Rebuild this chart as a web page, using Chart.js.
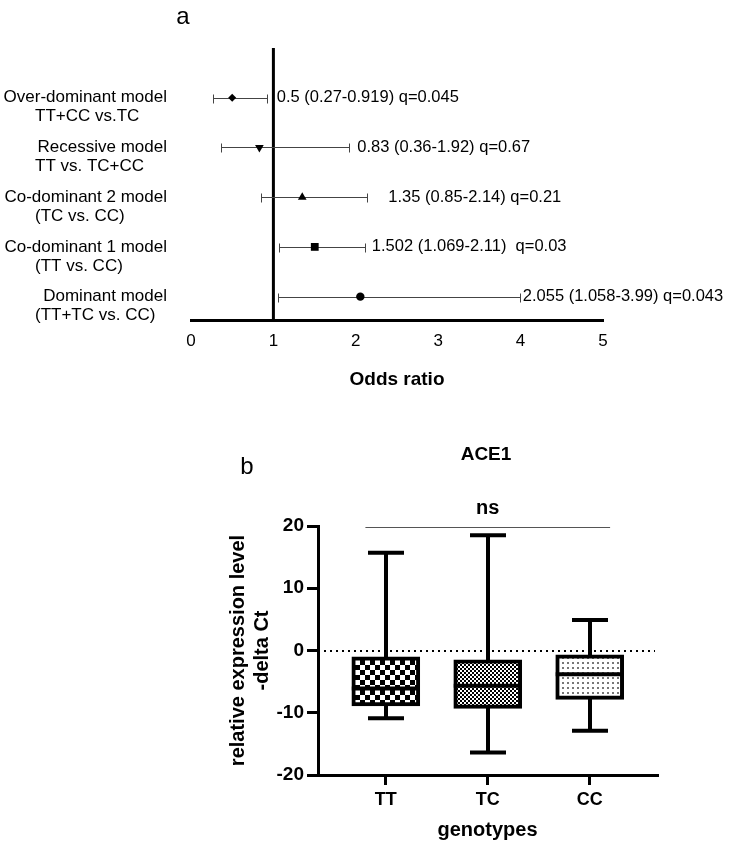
<!DOCTYPE html>
<html>
<head>
<meta charset="utf-8">
<script src="https://cdn.jsdelivr.net/npm/chart.js@4/dist/chart.umd.min.js"></script>
<style>
html,body{margin:0;padding:0;background:#fff;}
#wrap{position:relative;width:740px;height:847px;background:#fff;}
#wrap canvas{position:absolute;left:0;top:0;}
</style>
</head>
<body>
<div id="wrap">
<canvas id="forest" width="740" height="847"></canvas>
<canvas id="box" width="740" height="847"></canvas>
</div>
<script>
// ---------- Panel a: forest plot data ----------
const modelNames = ["Over-dominant model", "Recessive model", "Co-dominant 2 model", "Co-dominant 1 model", "Dominant model"];
const modelComparisons = ["TT+CC vs.TC", "TT vs. TC+CC", "(TC vs. CC)", "(TT vs. CC)", "(TT+TC vs. CC)"];
const oddsRatio = [0.5, 0.83, 1.35, 1.502, 2.055];
const ciLow = [0.27, 0.36, 0.85, 1.069, 1.058];
const ciHigh = [0.919, 1.92, 2.14, 2.11, 3.99];
const orLabels = ["0.5 (0.27-0.919) q=0.045", "0.83 (0.36-1.92) q=0.67", "1.35 (0.85-2.14) q=0.21", "1.502 (1.069-2.11)  q=0.03", "2.055 (1.058-3.99) q=0.043"];
const orTicks = [0, 1, 2, 3, 4, 5];

// ---------- Panel b: box plot data ----------
const genotypes = ["TT", "TC", "CC"];
const whiskerMax = [15.7, 18.5, 4.9];
const q3 = [-1.0, -1.5, -0.7];
const median = [-6.1, -5.65, -3.8];
const q1 = [-8.9, -9.3, -7.85];
const whiskerMin = [-10.9, -16.4, -12.9];
const exprTicks = [-20, -10, 0, 10, 20];

const FONT = "'Liberation Sans', Arial, sans-serif";

// styles (not data)
const markerStyle = ['rectRot', 'triangle', 'triangle', 'rect', 'circle'];
const markerRotation = [0, 180, 0, 0, 0];
const markerRadius = [4, 5, 5, 5.5, 4.2];
const labelGap = [10, 8, 21, 7, 3];

const forestPlugin = {
  id: 'forestExtras',
  beforeDatasetsDraw(chart) {
    const {ctx, chartArea} = chart;
    const xs = chart.scales.x, ys = chart.scales.y;
    ctx.save();
    // reference line at OR = 1
    const x1 = xs.getPixelForValue(1);
    ctx.strokeStyle = '#000';
    ctx.lineWidth = 3;
    ctx.beginPath();
    ctx.moveTo(x1, chartArea.top);
    ctx.lineTo(x1, chartArea.bottom);
    ctx.stroke();
    // CI whiskers
    ctx.strokeStyle = '#444';
    ctx.lineWidth = 1;
    ciLow.forEach((lo, i) => {
      const py = Math.round(ys.getPixelForValue(i + 1)) + 0.5;
      const a = Math.round(xs.getPixelForValue(lo)) + 0.5;
      const b = Math.round(xs.getPixelForValue(ciHigh[i])) + 0.5;
      ctx.beginPath();
      ctx.moveTo(a, py); ctx.lineTo(b, py);
      ctx.moveTo(a, py - 4); ctx.lineTo(a, py + 5);
      ctx.moveTo(b, py - 4); ctx.lineTo(b, py + 5);
      ctx.stroke();
    });
    ctx.restore();
  },
  afterDraw(chart) {
    const {ctx} = chart;
    const xs = chart.scales.x, ys = chart.scales.y;
    ctx.save();
    ctx.fillStyle = '#000';
    ctx.textBaseline = 'middle';
    // panel letter
    ctx.font = `24px ${FONT}`;
    ctx.textAlign = 'center';
    ctx.fillText('a', 183, 17);
    // row labels
    ctx.font = `17px ${FONT}`;
    modelNames.forEach((name, i) => {
      const py = ys.getPixelForValue(i + 1);
      ctx.textAlign = 'right';
      ctx.fillText(name, 167, py);
      ctx.textAlign = 'left';
      ctx.fillText(modelComparisons[i], 35, py + 19);
    });
    // OR annotations
    ctx.font = `16.5px ${FONT}`;
    ctx.textAlign = 'left';
    orLabels.forEach((t, i) => {
      const py = ys.getPixelForValue(i + 1);
      ctx.fillText(t, xs.getPixelForValue(ciHigh[i]) + labelGap[i], py);
    });
    ctx.restore();
  }
};

new Chart(document.getElementById('forest'), {
  type: 'scatter',
  data: {
    datasets: [{
      data: oddsRatio.map((v, i) => ({x: v, y: i + 1})),
      pointStyle: markerStyle,
      rotation: markerRotation,
      pointRadius: markerRadius,
      backgroundColor: '#000',
      borderColor: '#000',
      borderWidth: 0
    }]
  },
  options: {
    responsive: false,
    animation: false,
    events: [],
    layout: {padding: {left: 191, right: 137, top: 48, bottom: 452}},
    plugins: {legend: {display: false}, tooltip: {enabled: false}},
    scales: {
      x: {
        type: 'linear', min: orTicks[0], max: orTicks[orTicks.length - 1],
        afterBuildTicks: s => { s.ticks = orTicks.map(v => ({value: v})); },
        afterFit: s => { s.height = 75; },
        grid: {display: false, drawTicks: false},
        border: {display: true, width: 3, color: '#000'},
        ticks: {padding: 11, color: '#000', font: {size: 17, family: FONT}},
        title: {display: true, text: 'Odds ratio', color: '#000', padding: {top: 0, bottom: 4}, font: {size: 19, weight: 'bold', family: FONT}}
      },
      y: {type: 'linear', min: 0, max: 5.47, reverse: true, display: false}
    }
  },
  plugins: [forestPlugin]
});

// ---------- patterns ----------
function makePattern(kind) {
  const c = document.createElement('canvas');
  const g = c.getContext('2d');
  if (kind === 'checker') {
    c.width = 10; c.height = 10;
    g.fillStyle = '#fff'; g.fillRect(0, 0, 10, 10);
    g.fillStyle = '#000'; g.fillRect(0, 0, 5, 5); g.fillRect(5, 5, 5, 5);
  } else if (kind === 'fine') {
    c.width = 4; c.height = 4;
    g.fillStyle = '#fff'; g.fillRect(0, 0, 4, 4);
    g.fillStyle = '#000'; g.fillRect(0, 0, 2, 2); g.fillRect(2, 2, 2, 2);
  } else {
    c.width = 5; c.height = 5;
    g.fillStyle = '#fff'; g.fillRect(0, 0, 5, 5);
    g.fillStyle = '#777'; g.fillRect(2, 2, 2, 2);
  }
  return g.createPattern(c, 'repeat');
}
const boxFills = [makePattern('checker'), makePattern('fine'), makePattern('dots')];

const boxPlugin = {
  id: 'boxExtras',
  beforeDatasetsDraw(chart) {
    const {ctx, chartArea} = chart;
    const xs = chart.scales.x, ys = chart.scales.y;
    ctx.save();
    const y0 = Math.round(ys.getPixelForValue(0));
    ctx.strokeStyle = '#000';
    ctx.lineWidth = 2;
    ctx.setLineDash([2, 4]);
    ctx.beginPath();
    ctx.moveTo(chartArea.left + 6, y0); ctx.lineTo(chartArea.right - 2, y0);
    ctx.stroke();
    ctx.setLineDash([]);
    ctx.lineWidth = 4;
    genotypes.forEach((g, i) => {
      const px = Math.round(xs.getPixelForValue(i + 1));
      const ya = ys.getPixelForValue(whiskerMin[i]);
      const yb = ys.getPixelForValue(whiskerMax[i]);
      ctx.beginPath();
      ctx.moveTo(px, ya); ctx.lineTo(px, yb);
      ctx.moveTo(px - 18, ya); ctx.lineTo(px + 18, ya);
      ctx.moveTo(px - 18, yb); ctx.lineTo(px + 18, yb);
      ctx.stroke();
    });
    ctx.restore();
  },
  afterDatasetsDraw(chart) {
    const {ctx} = chart;
    const xs = chart.scales.x, ys = chart.scales.y;
    const meta = chart.getDatasetMeta(0);
    ctx.save();
    ctx.strokeStyle = '#000';
    ctx.lineWidth = 4;
    median.forEach((m, i) => {
      const bar = meta.data[i];
      const py = ys.getPixelForValue(m);
      ctx.beginPath();
      ctx.moveTo(bar.x - bar.width / 2, py); ctx.lineTo(bar.x + bar.width / 2, py);
      ctx.stroke();
    });
    ctx.restore();
  },
  afterDraw(chart) {
    const {ctx} = chart;
    const xs = chart.scales.x, ys = chart.scales.y;
    ctx.save();
    // significance bar
    const ly = Math.round(ys.getPixelForValue(19.8)) + 0.5;
    ctx.strokeStyle = '#555';
    ctx.lineWidth = 1;
    ctx.beginPath();
    ctx.moveTo(xs.getPixelForValue(0.8), ly); ctx.lineTo(xs.getPixelForValue(3.2), ly);
    ctx.stroke();
    ctx.fillStyle = '#000';
    ctx.textAlign = 'center';
    ctx.textBaseline = 'middle';
    ctx.font = `bold 20px ${FONT}`;
    ctx.fillText('ns', xs.getPixelForValue(2), ly - 19);
    ctx.font = `bold 19px ${FONT}`;
    ctx.fillText('ACE1', 486, 455);
    ctx.font = `24px ${FONT}`;
    ctx.fillText('b', 247, 467);
    ctx.restore();
  }
};

new Chart(document.getElementById('box'), {
  type: 'bar',
  data: {
    datasets: [{
      data: genotypes.map((g, i) => ({x: i + 1, y: [q1[i], q3[i]]})),
      backgroundColor: boxFills,
      borderColor: '#000',
      borderWidth: 4,
      borderSkipped: false,
      barThickness: 68
    }]
  },
  options: {
    responsive: false,
    animation: false,
    events: [],
    layout: {padding: {left: 218, right: 83, top: 526, bottom: 2}},
    plugins: {legend: {display: false}, tooltip: {enabled: false}},
    scales: {
      x: {
        type: 'linear', min: 0.335, max: 3.66, offset: false,
        afterBuildTicks: s => { s.ticks = genotypes.map((g, i) => ({value: i + 1})); },
        afterFit: s => { s.height = 70; },
        grid: {offset: false, drawOnChartArea: false, drawTicks: true, tickLength: 10, tickWidth: 3, tickColor: '#000', color: '#000', lineWidth: 3},
        border: {display: true, width: 3, color: '#000'},
        ticks: {padding: 4, color: '#000', font: {size: 18, weight: 'bold', family: FONT}, callback: v => genotypes[v - 1]},
        title: {display: true, text: 'genotypes', color: '#000', padding: {top: 0, bottom: 3}, font: {size: 20, weight: 'bold', family: FONT}}
      },
      y: {
        type: 'linear', min: exprTicks[0], max: exprTicks[exprTicks.length - 1],
        afterBuildTicks: s => { s.ticks = exprTicks.map(v => ({value: v})); },
        afterFit: s => { s.width = 100; },
        grid: {drawOnChartArea: false, drawTicks: true, tickLength: 11, tickWidth: 3, tickColor: '#000', color: '#000', lineWidth: 3},
        border: {display: true, width: 3, color: '#000'},
        ticks: {padding: 3, color: '#000', font: {size: 19, weight: 'bold', family: FONT}},
        title: {display: true, text: ['relative expression level', '-delta Ct'], color: '#000', padding: {top: 8, bottom: 0}, font: {size: 20, weight: 'bold', family: FONT}}
      }
    }
  },
  plugins: [boxPlugin]
});
</script>
</body>
</html>
